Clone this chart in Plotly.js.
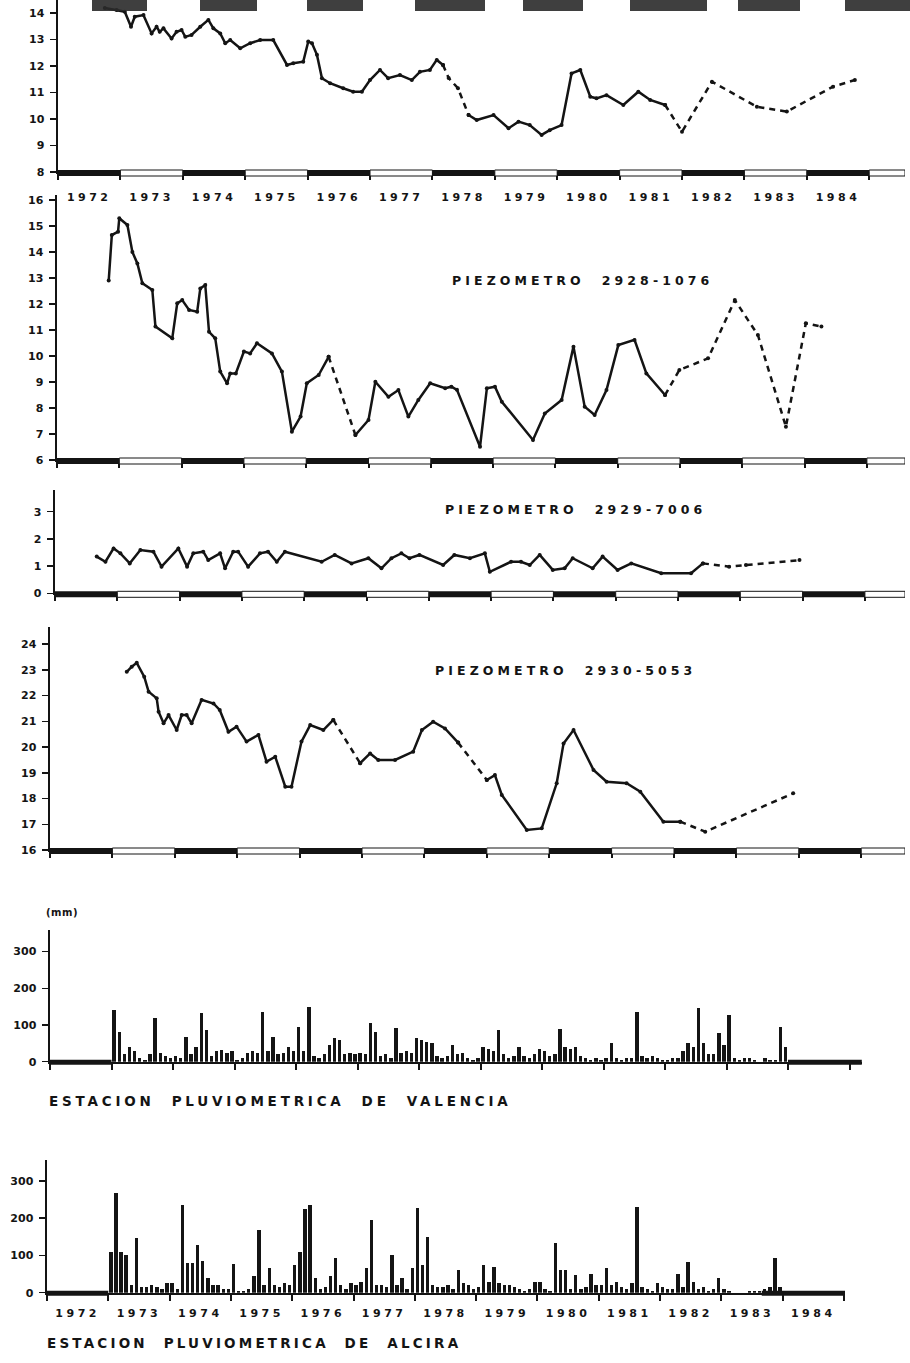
<!DOCTYPE html>
<html><head><meta charset="utf-8">
<script src="https://cdn.plot.ly/plotly-3.0.1.min.js"></script>
<style>html,body{margin:0;padding:0;background:#fff}#chart{width:910px;height:1363px}</style>
</head><body><div id="chart"></div>
<script>
// ---------------- DATA ----------------
const years = [1972,1973,1974,1975,1976,1977,1978,1979,1980,1981,1982,1983,1984];
const yearLabels = years.map(String);

// Top panel (piezometer, name cut off)
const p1Years = [1972.75,1972.94,1973.07,1973.17,1973.23,1973.37,1973.50,1973.58,1973.63,1973.69,1973.82,1973.90,1973.98,1974.04,1974.14,1974.28,1974.41,1974.49,1974.60,1974.68,1974.76,1974.92,1975.08,1975.24,1975.45,1975.67,1975.77,1975.93,1976.01,1976.07,1976.15,1976.23,1976.36,1976.57,1976.73,1976.87,1977.00,1977.16,1977.29,1977.48,1977.67,1977.80,1977.96,1978.07,1978.17,1978.26,1978.41,1978.58,1978.71,1978.98,1979.22,1979.38,1979.56,1979.75,1979.88,1980.07,1980.23,1980.37,1980.53,1980.63,1980.79,1981.06,1981.30,1981.49,1981.73,1982.00,1982.48,1983.20,1983.68,1984.42,1984.77];
const p1Levels = [14.19,14.11,14.05,13.48,13.86,13.92,13.23,13.48,13.29,13.42,13.04,13.29,13.36,13.10,13.17,13.48,13.74,13.42,13.23,12.86,12.98,12.67,12.86,12.98,12.98,12.04,12.10,12.16,12.92,12.86,12.42,11.54,11.35,11.16,11.03,11.03,11.47,11.85,11.54,11.66,11.47,11.78,11.85,12.23,12.04,11.55,11.16,10.15,9.96,10.15,9.65,9.90,9.77,9.40,9.58,9.77,11.72,11.85,10.84,10.78,10.90,10.53,11.03,10.72,10.53,9.52,11.41,10.46,10.28,11.22,11.47];
const p1Dashed = [[1978.17,1978.58],[1981.73,1985]];

// PIEZOMETRO 2928-1076
const p2Years = [1972.83,1972.88,1972.98,1973.00,1973.13,1973.21,1973.29,1973.37,1973.53,1973.58,1973.85,1973.93,1974.01,1974.12,1974.25,1974.30,1974.38,1974.44,1974.54,1974.62,1974.73,1974.78,1974.87,1975.00,1975.10,1975.21,1975.45,1975.61,1975.77,1975.91,1976.01,1976.20,1976.36,1976.79,1977.00,1977.11,1977.32,1977.48,1977.64,1977.80,1977.99,1978.23,1978.33,1978.42,1978.79,1978.90,1979.03,1979.14,1979.64,1979.83,1980.10,1980.29,1980.47,1980.63,1980.82,1981.01,1981.27,1981.46,1981.76,1981.99,1982.45,1982.88,1983.25,1983.70,1984.02,1984.27];
const p2Levels = [12.90,14.65,14.78,15.30,15.04,14.00,13.56,12.80,12.54,11.13,10.68,12.03,12.15,11.77,11.70,12.60,12.73,10.93,10.68,9.40,8.95,9.33,9.33,10.17,10.10,10.49,10.10,9.40,7.09,7.67,8.95,9.27,9.97,6.96,7.54,9.01,8.43,8.69,7.67,8.31,8.95,8.76,8.82,8.70,6.51,8.76,8.82,8.24,6.77,7.79,8.31,10.36,8.05,7.73,8.69,10.42,10.62,9.33,8.50,9.46,9.91,12.15,10.81,7.28,11.26,11.13];
const p2Dashed = [[1976.36,1976.79],[1981.76,1985]];

// PIEZOMETRO 2929-7006
const p3Years = [1972.67,1972.81,1972.94,1973.05,1973.20,1973.37,1973.58,1973.71,1973.98,1974.12,1974.22,1974.38,1974.46,1974.65,1974.73,1974.86,1974.94,1975.10,1975.29,1975.42,1975.56,1975.69,1976.28,1976.49,1976.76,1977.03,1977.24,1977.40,1977.56,1977.69,1977.85,1978.23,1978.41,1978.66,1978.90,1978.98,1979.32,1979.48,1979.62,1979.78,1979.99,1980.18,1980.31,1980.63,1980.79,1981.03,1981.25,1981.73,1982.21,1982.40,1982.82,1983.09,1983.95];
const p3Levels = [1.35,1.16,1.65,1.47,1.10,1.59,1.53,0.98,1.65,0.98,1.47,1.53,1.22,1.47,0.92,1.53,1.53,0.98,1.47,1.53,1.16,1.53,1.16,1.41,1.10,1.29,0.92,1.29,1.47,1.29,1.41,1.04,1.41,1.29,1.47,0.79,1.16,1.16,1.04,1.41,0.86,0.92,1.29,0.92,1.35,0.86,1.10,0.74,0.74,1.10,0.98,1.04,1.22];
const p3Dashed = [[1982.40,1985]];

// PIEZOMETRO 2930-5053
const p4Years = [1973.23,1973.31,1973.39,1973.51,1973.58,1973.71,1973.74,1973.82,1973.90,1974.03,1974.11,1974.19,1974.27,1974.43,1974.62,1974.72,1974.86,1974.99,1975.15,1975.34,1975.47,1975.61,1975.77,1975.87,1976.03,1976.17,1976.38,1976.54,1976.97,1977.13,1977.26,1977.53,1977.82,1977.96,1978.14,1978.33,1978.54,1979.00,1979.13,1979.24,1979.64,1979.88,1980.12,1980.23,1980.39,1980.71,1980.92,1981.24,1981.46,1981.83,1982.10,1982.50,1983.91];
const p4Levels = [22.92,23.12,23.27,22.73,22.15,21.89,21.37,20.92,21.24,20.66,21.24,21.24,20.92,21.83,21.69,21.44,20.59,20.79,20.21,20.47,19.43,19.62,18.46,18.46,20.21,20.85,20.66,21.05,19.37,19.75,19.50,19.50,19.82,20.66,20.98,20.72,20.17,18.72,18.91,18.14,16.78,16.84,18.59,20.14,20.66,19.11,18.65,18.59,18.26,17.10,17.10,16.71,18.20];
const p4Dashed = [[1976.54,1976.97],[1978.54,1979.00],[1982.10,1985]];

// Monthly rainfall (mm), Jan 1973 ... Dec 1983
const rainStartYear = 1973;
const valenciaRain = [
  140,80,20,40,30,10,5,20,118,25,15,10,      // 1973
  15,10,68,20,40,132,86,15,30,32,25,28,      // 1974
  5,10,25,30,25,136,30,68,20,25,40,30,       // 1975
  95,30,150,15,10,20,45,65,60,20,25,20,      // 1976
  25,20,105,80,15,20,10,91,25,30,25,65,      // 1977
  60,55,50,15,10,15,45,20,25,10,5,10,        // 1978
  40,35,30,86,20,10,15,41,15,10,20,35,       // 1979
  30,15,20,90,40,35,40,15,10,5,10,5,         // 1980
  10,50,10,5,10,10,136,15,10,15,10,5,        // 1981
  5,10,10,30,50,40,145,50,20,20,77,45,       // 1982
  127,10,5,10,10,5,0,10,5,5,95,40            // 1983
];
const alciraRain = [
  110,266,110,100,20,146,15,15,20,15,10,25,  // 1973
  25,10,235,80,80,128,85,40,20,20,10,10,     // 1974
  78,5,5,10,45,168,20,65,20,15,25,20,        // 1975
  74,110,225,235,40,10,15,45,92,20,10,25,    // 1976
  20,30,65,195,20,20,15,101,20,40,10,65,     // 1977
  226,75,150,20,15,15,20,10,60,25,20,10,     // 1978
  15,74,30,70,25,20,20,15,10,5,10,30,        // 1979
  30,10,5,133,60,60,10,47,10,15,50,20,       // 1980
  20,66,20,30,15,10,25,231,15,10,5,25,       // 1981
  15,10,10,50,15,83,30,10,15,5,10,39,        // 1982
  10,5,0,0,0,5,5,5,10,15,92,15               // 1983
];
// periods drawn as thick baseline (no record)
const valenciaNoData = [[1972,1973],[1984,1985.2]];
const alciraNoData = [[1972,1973],[1983.66,1985.02]];

const piezoTitles = ['PIEZOMETRO\u00a0\u00a02928-1076','PIEZOMETRO\u00a0\u00a02929-7006','PIEZOMETRO\u00a0\u00a02930-5053'];
const valenciaTitle = 'ESTACION\u00a0\u00a0PLUVIOMETRICA\u00a0\u00a0DE\u00a0\u00a0VALENCIA';
const alciraTitle = 'ESTACION\u00a0\u00a0PLUVIOMETRICA\u00a0\u00a0DE\u00a0\u00a0ALCIRA';

// ---------------- LAYOUT HELPERS ----------------
const W = 910, H = 1363;
const fx = p => p / W;
const fy = p => 1 - p / H;
const INK = '#141414';
const FONT = 'DejaVu Sans';

const panels = [
  {origin:58, pyr:62.4, right:905, bottom:172,    top:0,   ymin:8,  ppu:26.5,  yticks:[8,9,10,11,12,13,14], labels:true,  kind:'piezo'},
  {origin:57, pyr:62.3, right:905, bottom:460,    top:195, ymin:6,  ppu:26,    yticks:[6,7,8,9,10,11,12,13,14,15,16], labels:false, kind:'piezo'},
  {origin:55, pyr:62.3, right:905, bottom:593.3,  top:490, ymin:0,  ppu:27.2,  yticks:[0,1,2,3], labels:false, kind:'piezo'},
  {origin:50, pyr:62.4, right:905, bottom:850,    top:627, ymin:16, ppu:25.75, yticks:[16,17,18,19,20,21,22,23,24], labels:false, kind:'piezo'},
  {origin:50, pyr:61.5, right:862, bottom:1061.7, top:930, ymin:0,  ppu:0.367, yticks:[0,100,200,300], labels:false, kind:'rain', noData:valenciaNoData},
  {origin:47, pyr:61.3, right:845, bottom:1292.7, top:1160,ymin:0,  ppu:0.373, yticks:[0,100,200,300], labels:true,  kind:'rain', noData:alciraNoData}
];

const yearEdges = years.concat([years[years.length-1] + 1]);
const layout = {
  width: W, height: H, paper_bgcolor:'#fff', plot_bgcolor:'rgba(0,0,0,0)',
  margin:{l:0,r:0,t:0,b:0}, showlegend:false, shapes:[], annotations:[],
  font:{family:FONT, color:INK}
};

panels.forEach((p, i) => {
  const n = i === 0 ? '' : String(i + 1);
  p.xa = 'x' + n; p.ya = 'y' + n;
  p.xmax = 1972 + (p.right - p.origin) / p.pyr;
  layout['xaxis' + n] = {
    domain:[fx(p.origin), fx(p.right)], range:[1972, p.xmax], anchor:p.ya,
    showline:true, linewidth:2, linecolor:INK,
    showgrid:false, zeroline:false, fixedrange:true,
    tickmode:'array', tickvals: p.labels ? years.map(y => y + 0.5) : [],
    ticktext: p.labels ? yearLabels.map(t => '<span style="letter-spacing:3.5px">' + t + '</span>') : [],
    ticks:'outside', ticklen:0, ticklabelstandoff: i === 0 ? 14 : 9,
    tickfont:{family:FONT, size:11, weight:'bold', color:INK},
    minor:{tickmode:'array', tickvals:yearEdges, ticks:'outside', ticklen:6, tickwidth:2, tickcolor:INK, showgrid:false}
  };
  layout['yaxis' + n] = {
    domain:[fy(p.bottom), fy(p.top)], range:[p.ymin, p.ymin + (p.bottom - p.top) / p.ppu], anchor:p.xa,
    showline:true, linewidth:2.5, linecolor:INK, showgrid:false, zeroline:false, fixedrange:true,
    tickmode:'array', tickvals:p.yticks, ticks:'outside', ticklen:6, tickwidth:1.5, tickcolor:INK,
    ticklabelstandoff:3,
    tickfont:{family:FONT, size:11, weight:'bold', color:INK}
  };
  if (p.kind === 'piezo') {
    // alternating filled / hollow year bars along the time axis
    const edges = yearEdges.concat([p.xmax]);
    for (let k = 0; k < edges.length - 1; k++) {
      const filled = k % 2 === 0 && k < yearEdges.length - 1;
      layout.shapes.push({type:'rect', xref:p.xa, yref:'paper', x0:edges[k], x1:edges[k+1],
        y0:fy(p.bottom + 4), y1:fy(p.bottom - 2),
        fillcolor: filled ? INK : '#fff', line:{color:INK, width: filled ? 0 : 1}});
    }
  } else {
    p.noData.forEach(([a, b]) => {
      layout.shapes.push({type:'rect', xref:p.xa, yref:'paper', x0:a, x1:b,
        y0:fy(p.bottom + 3), y1:fy(p.bottom - 2), fillcolor:INK, line:{width:0}});
    });
  }
});

// scan artefacts at the very top (dark blocks of the figure above)
[[92,147],[200,257],[307,363],[415,485],[523,583],[630,707],[738,800],[845,910]].forEach(([a,b]) => {
  layout.shapes.push({type:'rect', xref:'paper', yref:'paper', x0:fx(a), x1:fx(b), y0:fy(11), y1:1,
    fillcolor:'#2a2a2a', opacity:0.9, line:{width:0}});
});

function ann(text, xp, yp, size, spacing, anchor) {
  layout.annotations.push({xref:'paper', yref:'paper', x:fx(xp), y:fy(yp), xanchor:anchor || 'left', yanchor:'middle',
    showarrow:false, text:'<span style="letter-spacing:' + spacing + 'px">' + text + '</span>',
    font:{family:FONT, size:size, weight:'bold', color:INK}});
}
ann(piezoTitles[0], 450, 280, 12.5, 4.1);
ann(piezoTitles[1], 443, 510, 12.5, 4.1);
ann(piezoTitles[2], 433, 670, 12.5, 4.1);
ann('(mm)', 44, 912, 10, 0.5);
ann(valenciaTitle, 47, 1101, 13.5, 3.8);
ann(alciraTitle, 45, 1343, 13.5, 3.2);

// ---------------- TRACES ----------------
function lineTraces(x, y, dashed, xa, ya) {
  const isDash = (a, b) => dashed.some(([s, e]) => a >= s - 1e-6 && b <= e + 1e-6);
  const segs = [];
  let cur = null;
  for (let i = 0; i < x.length - 1; i++) {
    const d = isDash(x[i], x[i+1]);
    if (!cur || cur.d !== d) { cur = {d, xs:[x[i]], ys:[y[i]]}; segs.push(cur); }
    cur.xs.push(x[i+1]); cur.ys.push(y[i+1]);
  }
  return segs.map(s => ({type:'scatter', mode:'lines+markers', x:s.xs, y:s.ys, xaxis:xa, yaxis:ya,
    line:{color:INK, width:2.5, dash: s.d ? '6px,5px' : 'solid'}, marker:{size:4, color:INK},
    hoverinfo:'skip', showlegend:false, cliponaxis:false}));
}
function rainTrace(values, xa, ya) {
  return {type:'bar', x:values.map((_, i) => rainStartYear + (i + 0.5) / 12), y:values,
    width:0.055, marker:{color:INK, line:{width:0}}, xaxis:xa, yaxis:ya, hoverinfo:'skip', showlegend:false};
}

const data = [].concat(
  lineTraces(p1Years, p1Levels, p1Dashed, 'x', 'y'),
  lineTraces(p2Years, p2Levels, p2Dashed, 'x2', 'y2'),
  lineTraces(p3Years, p3Levels, p3Dashed, 'x3', 'y3'),
  lineTraces(p4Years, p4Levels, p4Dashed, 'x4', 'y4'),
  [rainTrace(valenciaRain, 'x5', 'y5'), rainTrace(alciraRain, 'x6', 'y6')]
);
layout.bargap = 0;

Plotly.newPlot('chart', data, layout, {staticPlot:true, displayModeBar:false});
</script>
</body></html>
